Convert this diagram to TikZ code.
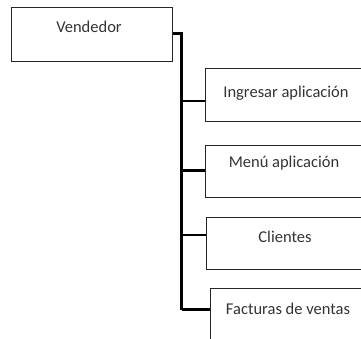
\documentclass[tikz,border=0pt]{standalone}
\usepackage{fontspec}
\setmainfont{Carlito}
\begin{document}
\begin{tikzpicture}[x=1pt,y=-1pt,
  box/.style={draw=black!85, line width=1.4pt, rectangle, inner sep=0pt, anchor=north west},
  lbl/.style={font=\fontsize{16.5}{19}\selectfont, text=black!80, inner sep=0pt},
  conn/.style={draw=black, line width=2.2pt}]
\useasboundingbox (0,0) rectangle (361,338);
\clip (0,0) rectangle (361,338);
\node[box, minimum width=161pt, minimum height=54pt] (vend) at (11,7) {};
\node[lbl] (tv) at (89,27) {Vendedor};
\node[box, minimum width=170pt, minimum height=53pt] (b1) at (205,67.5) {};
\node[lbl] (t1) at (286,93) {Ingresar aplicación};
\node[box, minimum width=170pt, minimum height=52pt] (b2) at (205,144.5) {};
\node[lbl] (t2) at (284,163) {Menú aplicación};
\node[box, minimum width=170pt, minimum height=52pt] (b3) at (205.5,217) {};
\node[lbl] (t3) at (285,237) {Clientes};
\node[box, minimum width=170pt, minimum height=70pt] (b4) at (209.5,288) {};
\node[lbl] (t4) at (288,308.5) {Facturas de ventas};
\coordinate (top) at (181.5,33.5);
\coordinate (j1) at (181.5,101);
\coordinate (j2) at (181.5,170.5);
\coordinate (j3) at (181.5,235);
\coordinate (j4) at (181.5,309.5);
\draw[conn] (vend.east |- top) -- (top) -- (j4);
\draw[conn] (j1) -- (j1 -| b1.west);
\draw[conn] (j2) -- (j2 -| b2.west);
\draw[conn] (j3) -- (j3 -| b3.west);
\draw[conn] (j4) -- (j4 -| b4.west);
\end{tikzpicture}
\end{document}
